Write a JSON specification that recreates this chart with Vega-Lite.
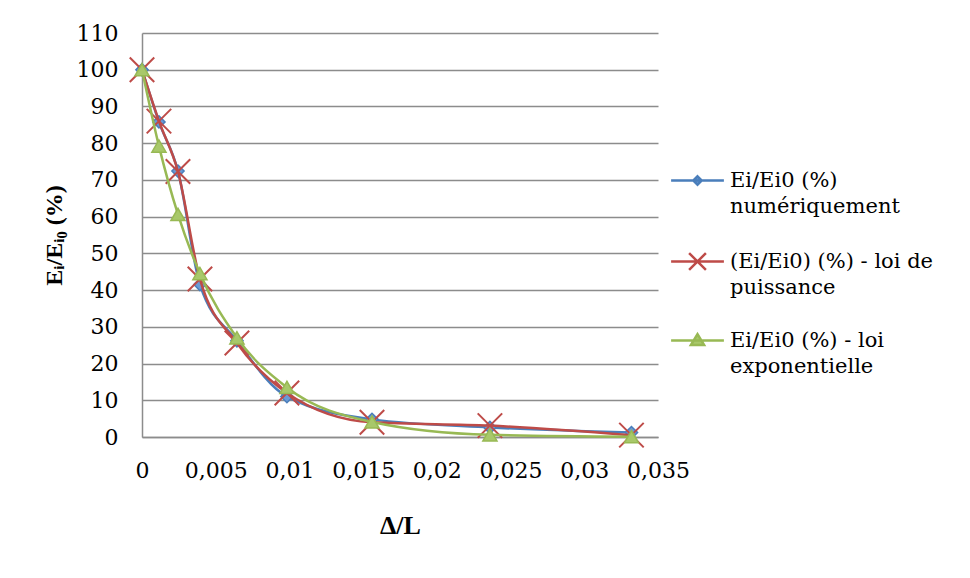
{
  "$schema": "https://vega.github.io/schema/vega-lite/v6.json",
  "width": 516,
  "height": 404,
  "autosize": {"type": "none"},
  "padding": {"left": 142, "top": 33, "right": 312, "bottom": 141},
  "background": "white",
  "config": {
    "view": {"stroke": null},
    "font": "DejaVu Serif",
    "axis": {
      "labelFont": "DejaVu Serif",
      "labelFontSize": 22,
      "labelColor": "#000000",
      "titleFont": "Liberation Serif",
      "titleFontSize": 26,
      "titleFontWeight": "bold",
      "titleColor": "#000000",
      "domainColor": "#8C8C8C",
      "domainWidth": 1.5,
      "ticks": false,
      "gridColor": "#8C8C8C",
      "gridWidth": 1.5,
      "gridOpacity": 1
    }
  },
  "data": {
    "values": [
      {"dl": 0, "e": 100, "serie": "Ei/Ei0 (%) numériquement"},
      {"dl": 0.00115, "e": 85.8, "serie": "Ei/Ei0 (%) numériquement"},
      {"dl": 0.00244, "e": 72.4, "serie": "Ei/Ei0 (%) numériquement"},
      {"dl": 0.00393, "e": 41.5, "serie": "Ei/Ei0 (%) numériquement"},
      {"dl": 0.00644, "e": 26.2, "serie": "Ei/Ei0 (%) numériquement"},
      {"dl": 0.00983, "e": 11, "serie": "Ei/Ei0 (%) numériquement"},
      {"dl": 0.0156, "e": 4.8, "serie": "Ei/Ei0 (%) numériquement"},
      {"dl": 0.0236, "e": 2.6, "serie": "Ei/Ei0 (%) numériquement"},
      {"dl": 0.0332, "e": 1.2, "serie": "Ei/Ei0 (%) numériquement"},
      {"dl": 0, "e": 100, "serie": "(Ei/Ei0) (%) - loi de puissance"},
      {"dl": 0.00115, "e": 86, "serie": "(Ei/Ei0) (%) - loi de puissance"},
      {"dl": 0.00244, "e": 72.3, "serie": "(Ei/Ei0) (%) - loi de puissance"},
      {"dl": 0.00393, "e": 43, "serie": "(Ei/Ei0) (%) - loi de puissance"},
      {"dl": 0.00644, "e": 25.6, "serie": "(Ei/Ei0) (%) - loi de puissance"},
      {"dl": 0.00983, "e": 12, "serie": "(Ei/Ei0) (%) - loi de puissance"},
      {"dl": 0.0156, "e": 4, "serie": "(Ei/Ei0) (%) - loi de puissance"},
      {"dl": 0.0236, "e": 3.1, "serie": "(Ei/Ei0) (%) - loi de puissance"},
      {"dl": 0.0332, "e": 0.5, "serie": "(Ei/Ei0) (%) - loi de puissance"},
      {"dl": 0, "e": 100, "serie": " Ei/Ei0 (%) - loi exponentielle"},
      {"dl": 0.00115, "e": 79.2, "serie": " Ei/Ei0 (%) - loi exponentielle"},
      {"dl": 0.00244, "e": 60.6, "serie": " Ei/Ei0 (%) - loi exponentielle"},
      {"dl": 0.00393, "e": 44.5, "serie": " Ei/Ei0 (%) - loi exponentielle"},
      {"dl": 0.00644, "e": 27, "serie": " Ei/Ei0 (%) - loi exponentielle"},
      {"dl": 0.00983, "e": 13.5, "serie": " Ei/Ei0 (%) - loi exponentielle"},
      {"dl": 0.0156, "e": 4.1, "serie": " Ei/Ei0 (%) - loi exponentielle"},
      {"dl": 0.0236, "e": 0.6, "serie": " Ei/Ei0 (%) - loi exponentielle"},
      {"dl": 0.0332, "e": 0.1, "serie": " Ei/Ei0 (%) - loi exponentielle"}
    ]
  },
  "encoding": {
    "x": {
      "field": "dl",
      "type": "quantitative",
      "scale": {"domain": [0, 0.035], "nice": false, "zero": false},
      "axis": {
        "title": "Δ/L",
        "values": [0, 0.005, 0.01, 0.015, 0.02, 0.025, 0.03, 0.035],
        "labelExpr": "replace(format(datum.value, ''), '.', ',')",
        "grid": false,
        "labelPadding": 23,
        "titlePadding": 31,
        "labelFlush": false,
        "labelOverlap": false
      }
    },
    "y": {
      "field": "e",
      "type": "quantitative",
      "scale": {"domain": [0, 110], "nice": false},
      "axis": {
        "title": "Eᵢ/Eᵢ₀ (%)",
        "titleFontSize": 24,
        "values": [0, 10, 20, 30, 40, 50, 60, 70, 80, 90, 100, 110],
        "grid": true,
        "labelPadding": 24,
        "titlePadding": 10
      }
    }
  },
  "layer": [
    {
      "transform": [{"filter": "datum.serie === 'Ei/Ei0 (%) numériquement'"}],
      "mark": {"type": "line", "interpolate": "monotone", "strokeWidth": 2.5},
      "encoding": {
        "color": {
          "field": "serie",
          "type": "nominal",
          "scale": {
            "domain": ["Ei/Ei0 (%) numériquement", "(Ei/Ei0) (%) - loi de puissance", " Ei/Ei0 (%) - loi exponentielle"],
            "range": ["#4A7EBB", "#BE4B48", "#98B954"]
          },
          "legend": {
            "title": null,
            "orient": "none",
            "legendX": 525,
            "legendY": 137,
            "padding": 0,
            "symbolSize": 144,
            "symbolStrokeWidth": 2.5,
            "symbolOffset": 20,
            "labelOffset": 22,
            "labelLimit": 400,
            "rowPadding": 31,
            "labelFont": "DejaVu Serif",
            "labelFontSize": 21,
            "labelColor": "#000000",
            "labelExpr": "datum.value === 'Ei/Ei0 (%) numériquement' ? ['Ei/Ei0 (%)', 'numériquement'] : datum.value === '(Ei/Ei0) (%) - loi de puissance' ? ['(Ei/Ei0) (%) - loi de', 'puissance'] : [' Ei/Ei0 (%) - loi', 'exponentielle']",
            "encode": {
              "labels": {
                "update": {
                  "lineHeight": {"value": 26},
                  "font": {"value": "DejaVu Serif"},
                  "fontSize": {"value": 21}
                }
              },
              "symbols": {
                "update": {
                  "shape": {"signal": "datum.value === 'Ei/Ei0 (%) numériquement' ? 'M-4.4,0H4.4M0,-0.7L0.7,0L0,0.7L-0.7,0Z' : datum.value === '(Ei/Ei0) (%) - loi de puissance' ? 'M-4.4,0H4.4M-1.4,-1.4L1.4,1.4M-1.4,1.4L1.4,-1.4' : 'M-4.4,0H4.4M0,-1.05L1.1,0.75L-1.1,0.75Z'"},
                  "fill": {"signal": "datum.value === 'Ei/Ei0 (%) numériquement' ? '#6A9AD6' : datum.value === '(Ei/Ei0) (%) - loi de puissance' ? 'transparent' : '#A8C86A'"},
                  "stroke": {"signal": "datum.value === 'Ei/Ei0 (%) numériquement' ? '#4A7EBB' : datum.value === '(Ei/Ei0) (%) - loi de puissance' ? '#BE4B48' : '#98B954'"},
                  "strokeWidth": {"value": 2.5},
                  "opacity": {"value": 1}
                }
              }
            }
          }
        }
      }
    },
    {
      "transform": [{"filter": "datum.serie === 'Ei/Ei0 (%) numériquement'"}],
      "mark": {"type": "point", "shape": "diamond", "size": 150, "filled": true, "fill": "#6A9AD6", "stroke": "#4A7EBB", "strokeWidth": 1.5, "opacity": 1}
    },
    {
      "transform": [{"filter": "datum.serie === '(Ei/Ei0) (%) - loi de puissance'"}],
      "mark": {"type": "line", "interpolate": "monotone", "strokeWidth": 2.5},
      "encoding": {"color": {"field": "serie", "type": "nominal"}}
    },
    {
      "transform": [{"filter": "datum.serie === '(Ei/Ei0) (%) - loi de puissance'"}],
      "mark": {"type": "point", "shape": "M-1,-1L1,1M-1,1L1,-1", "size": 600, "filled": false, "stroke": "#BE4B48", "strokeWidth": 2, "opacity": 1}
    },
    {
      "transform": [{"filter": "datum.serie === ' Ei/Ei0 (%) - loi exponentielle'"}],
      "mark": {"type": "line", "interpolate": "monotone", "strokeWidth": 2.5},
      "encoding": {"color": {"field": "serie", "type": "nominal"}}
    },
    {
      "transform": [{"filter": "datum.serie === ' Ei/Ei0 (%) - loi exponentielle'"}],
      "mark": {"type": "point", "shape": "triangle-up", "size": 200, "filled": true, "fill": "#A8C86A", "stroke": "#98B954", "strokeWidth": 1.5, "opacity": 1}
    }
  ]
}
